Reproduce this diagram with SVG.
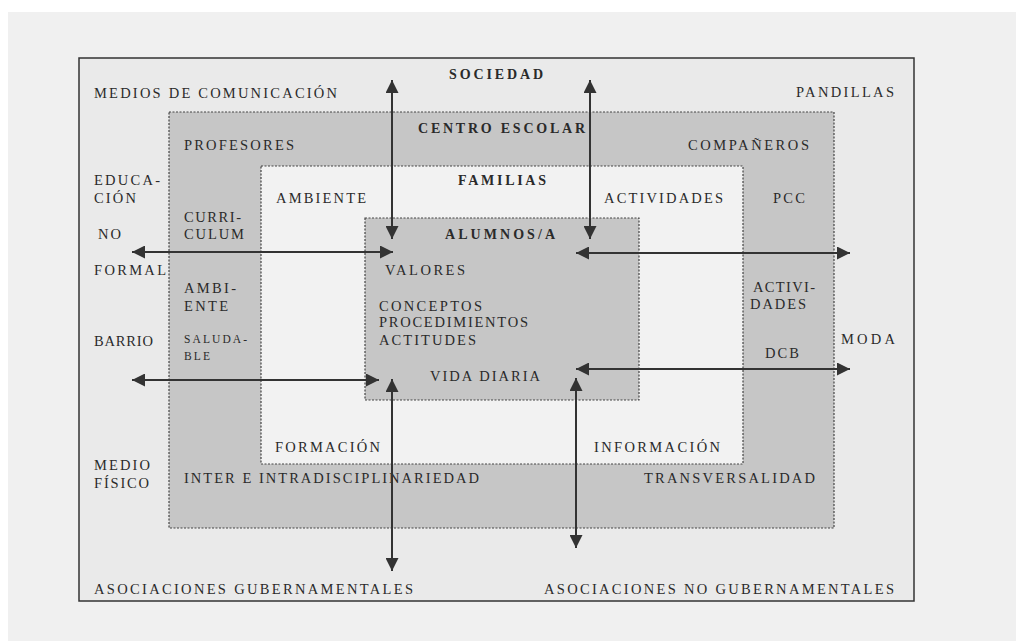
<svg xmlns="http://www.w3.org/2000/svg" width="1016" height="641" viewBox="0 0 1016 641">
<style>
text{font-family:"Liberation Serif","Times New Roman",serif;font-size:14.5px;fill:#2a2a2a}
.b{font-weight:bold;font-size:14px}
.s{font-size:11.5px}
.shade{fill:#c6c6c6;stroke:#444;stroke-width:1.2;stroke-dasharray:2 1.5}
.white{fill:#f2f2f2;stroke:#444;stroke-width:1.2;stroke-dasharray:2 1.5}
.arr{stroke:#333;stroke-width:2;fill:none;marker-start:url(#ah);marker-end:url(#ah)}
</style>
<defs>
<marker id="ah" viewBox="0 0 10 10" refX="10" refY="5" markerUnits="userSpaceOnUse" markerWidth="15" markerHeight="13" orient="auto-start-reverse">
<path d="M0,0 L10,5 L0,10 z" fill="#333"/>
</marker>
</defs>
<rect x="0" y="0" width="1016" height="641" fill="#ffffff"/>
<rect x="8" y="12" width="1008" height="629" fill="#f0f0f0"/>
<g id="sociedad">
<rect x="79" y="58" width="835" height="543" fill="#eaeaea" stroke="#333" stroke-width="1.5"/>
<text class="b" x="449" y="79" textLength="94" lengthAdjust="spacing">SOCIEDAD</text>
<text x="94" y="98" textLength="243" lengthAdjust="spacing">MEDIOS DE COMUNICACIÓN</text>
<text x="796" y="97" textLength="98" lengthAdjust="spacing">PANDILLAS</text>
<text x="94" y="185" textLength="66" lengthAdjust="spacing">EDUCA-</text>
<text x="94" y="203" textLength="42" lengthAdjust="spacing">CIÓN</text>
<text x="98" y="239" textLength="23" lengthAdjust="spacing">NO</text>
<text x="94" y="275" textLength="72" lengthAdjust="spacing">FORMAL</text>
<text x="94" y="346" textLength="59" lengthAdjust="spacing">BARRIO</text>
<text x="841" y="344" textLength="54" lengthAdjust="spacing">MODA</text>
<text x="94" y="470" textLength="56" lengthAdjust="spacing">MEDIO</text>
<text x="94" y="488" textLength="55" lengthAdjust="spacing">FÍSICO</text>
<text x="94" y="594" textLength="319" lengthAdjust="spacing">ASOCIACIONES GUBERNAMENTALES</text>
<text x="544" y="594" textLength="350" lengthAdjust="spacing">ASOCIACIONES NO GUBERNAMENTALES</text>
</g>
<g id="centro-escolar">
<rect class="shade" x="169" y="112" width="665" height="416"/>
<text class="b" x="418" y="133" textLength="167" lengthAdjust="spacing">CENTRO ESCOLAR</text>
<text x="184" y="150" textLength="110" lengthAdjust="spacing">PROFESORES</text>
<text x="688" y="150" textLength="121" lengthAdjust="spacing">COMPAÑEROS</text>
<text x="184" y="222" textLength="57" lengthAdjust="spacing">CURRI-</text>
<text x="184" y="239" textLength="60" lengthAdjust="spacing">CULUM</text>
<text x="184" y="293" textLength="52" lengthAdjust="spacing">AMBI-</text>
<text x="184" y="311" textLength="44" lengthAdjust="spacing">ENTE</text>
<text class="s" x="184" y="343" textLength="63" lengthAdjust="spacing">SALUDA-</text>
<text class="s" x="184" y="360" textLength="26" lengthAdjust="spacing">BLE</text>
<text x="773" y="203" textLength="32" lengthAdjust="spacing">PCC</text>
<text x="753" y="292" textLength="62" lengthAdjust="spacing">ACTIVI-</text>
<text x="750" y="309" textLength="56" lengthAdjust="spacing">DADES</text>
<text x="765" y="358" textLength="34" lengthAdjust="spacing">DCB</text>
<text x="184" y="483" textLength="295" lengthAdjust="spacing">INTER E INTRADISCIPLINARIEDAD</text>
<text x="644" y="483" textLength="171" lengthAdjust="spacing">TRANSVERSALIDAD</text>
</g>
<g id="familias">
<rect class="white" x="261" y="166" width="482" height="298"/>
<text class="b" x="458" y="185" textLength="88" lengthAdjust="spacing">FAMILIAS</text>
<text x="276" y="203" textLength="90" lengthAdjust="spacing">AMBIENTE</text>
<text x="604" y="203" textLength="119" lengthAdjust="spacing">ACTIVIDADES</text>
<text x="275" y="452" textLength="105" lengthAdjust="spacing">FORMACIÓN</text>
<text x="594" y="452" textLength="126" lengthAdjust="spacing">INFORMACIÓN</text>
</g>
<g id="alumnos">
<rect class="shade" x="365" y="218" width="274" height="182"/>
<text class="b" x="445" y="239" textLength="110" lengthAdjust="spacing">ALUMNOS/A</text>
<text x="385" y="275" textLength="80" lengthAdjust="spacing">VALORES</text>
<text x="379" y="311" textLength="103" lengthAdjust="spacing">CONCEPTOS</text>
<text x="379" y="327" textLength="149" lengthAdjust="spacing">PROCEDIMIENTOS</text>
<text x="379" y="345" textLength="97" lengthAdjust="spacing">ACTITUDES</text>
<text x="430" y="381" textLength="110" lengthAdjust="spacing">VIDA DIARIA</text>
</g>
<g id="connectors">
<line class="arr" x1="392" y1="80" x2="392" y2="239"/>
<line class="arr" x1="590" y1="80" x2="590" y2="239"/>
<line class="arr" x1="132" y1="252" x2="393" y2="252"/>
<line class="arr" x1="576" y1="253" x2="850" y2="253"/>
<line class="arr" x1="132" y1="380" x2="379" y2="380"/>
<line class="arr" x1="576" y1="369" x2="850" y2="369"/>
<line class="arr" x1="392" y1="379" x2="392" y2="571"/>
<line class="arr" x1="576" y1="378" x2="576" y2="548"/>
</g>
</svg>
